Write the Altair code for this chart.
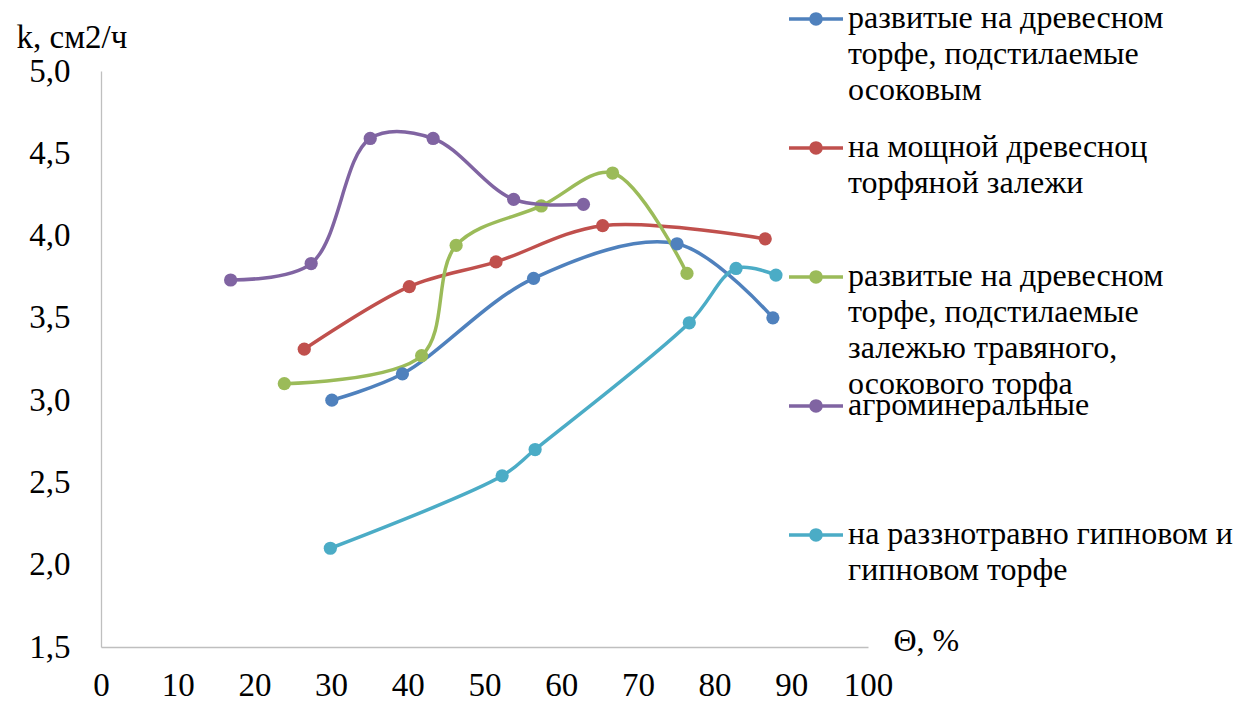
import json
import altair as alt
import pandas as pd

# ---- data ----
series_names = [
    "развитые на древесном торфе, подстилаемые осоковым",
    "на мощной древесноц торфяной залежи",
    "развитые на древесном торфе, подстилаемые залежью травяного, осокового торфа",
    "агроминеральные",
    "на раззнотравно гипновом и гипновом торфе",
]
legend_lines = [
    ["развитые на древесном", "торфе, подстилаемые", "осоковым"],
    ["на мощной древесноц", "торфяной залежи", ""],
    ["развитые на древесном", "торфе, подстилаемые", "залежью травяного,", "осокового торфа"],
    ["агроминеральные", "", ""],
    ["на раззнотравно гипновом и", "гипновом торфе", ""],
]
series_colors = ["#4F81BD", "#C0504D", "#9BBB59", "#8064A2", "#4BACC6"]

x_blue = [30.1, 39.3, 56.4, 75.1, 87.6]
y_blue = [3.00, 3.16, 3.74, 3.95, 3.50]
x_red = [26.5, 40.2, 51.5, 65.4, 86.6]
y_red = [3.31, 3.69, 3.84, 4.06, 3.98]
x_green = [23.9, 41.8, 46.3, 57.4, 66.7, 76.4]
y_green = [3.10, 3.27, 3.94, 4.18, 4.38, 3.77]
x_purple = [16.9, 27.4, 35.1, 43.3, 53.8, 62.9]
y_purple = [3.73, 3.83, 4.59, 4.59, 4.22, 4.19]
x_cyan = [29.9, 52.3, 56.6, 76.7, 82.8, 88.0]
y_cyan = [2.10, 2.54, 2.70, 3.47, 3.80, 3.76]

x_ticks = list(range(0, 101, 10))
y_ticks = [1.5, 2.0, 2.5, 3.0, 3.5, 4.0, 4.5, 5.0]

xs = [x_blue, x_red, x_green, x_purple, x_cyan]
ys = [y_blue, y_red, y_green, y_purple, y_cyan]
rows = []
for i, (name, xv, yv) in enumerate(zip(series_names, xs, ys)):
    for j, (a, b) in enumerate(zip(xv, yv)):
        rows.append({"series": name, "order": i, "idx": j, "x": a, "y": b})
df = pd.DataFrame(rows)

FONT = "Liberation Serif, Tinos, Times New Roman, DejaVu Serif, serif"
label_map = json.dumps(dict(zip(series_names, legend_lines)), ensure_ascii=False)

# legend symbol (unit = 3 px): a short line with a filled-looking dot, shifted to the first text line
sh = 5.3
cx = 8
def ring(r):
    return f"M{cx + r},{sh}A{r},{r},0,1,1,{cx - r},{sh}A{r},{r},0,1,1,{cx + r},{sh}"
legend_symbol = f"M-1,{sh}H17" + ring(1.67) + ring(1.17) + ring(0.5)


def make_legend(legend_y):
    return alt.Legend(
        orient="none",
        legendX=675,
        legendY=legend_y,
        labelFont=FONT,
        labelFontSize=32,
        labelColor="#000000",
        labelLimit=700,
        labelBaseline="top",
        labelOffset=40,
        labelExpr=f"({label_map})[datum.label]",
        symbolType=legend_symbol,
        symbolSize=36,
        symbolStrokeWidth=3.5,
        symbolOpacity=1,
        rowPadding=10,
        padding=0,
    )


x_enc = alt.X(
    "x:Q",
    scale=alt.Scale(domain=[0, 100], nice=False, zero=False),
    axis=alt.Axis(
        values=x_ticks,
        title="Θ, %",
        titleX=792,
        titleY=-7,
        titleAlign="left",
        titleBaseline="middle",
        titleFont=FONT,
        titleFontSize=32,
        labelFont=FONT,
        labelFontSize=33,
        labelPadding=22,
        labelFlush=False,
    ),
)
y_enc = alt.Y(
    "y:Q",
    scale=alt.Scale(domain=[1.5, 5.0], nice=False, zero=False),
    axis=alt.Axis(
        values=y_ticks,
        title="k, см2/ч",
        titleAngle=0,
        titleX=-85,
        titleY=-34,
        titleAlign="left",
        titleBaseline="middle",
        titleFont=FONT,
        titleFontSize=33,
        labelFont=FONT,
        labelFontSize=33,
        labelPadding=31,
        labelFlush=False,
        labelExpr="replace(format(datum.value, '.1f'), '.', ',')",
    ),
)


def group_layer(names, colors, legend_y):
    sub = df[df["series"].isin(names)]
    col = alt.Color(
        "series:N",
        sort=names,
        scale=alt.Scale(domain=names, range=colors),
        title=None,
        legend=make_legend(legend_y),
    )
    ln = alt.Chart(sub).mark_line(interpolate="catmull-rom", strokeWidth=3.5).encode(
        x=x_enc, y=y_enc, color=col, detail="series:N", order="idx:Q"
    )
    pt = alt.Chart(sub).mark_circle(size=175, opacity=1).encode(
        x="x:Q", y="y:Q", color=col
    )
    return alt.layer(ln, pt)


# two legend blocks, so entries keep the reference's even spacing
layer_a = group_layer(series_names[:3], series_colors[:3], -84)
layer_b = group_layer(series_names[3:], series_colors[3:], 303)

chart = (
    alt.layer(layer_a, layer_b)
    .resolve_scale(color="independent")
    .properties(
        width=767,
        height=576,
        autosize=alt.AutoSizeParams(type="none"),
        padding={"left": 93, "top": 63, "right": 384, "bottom": 58},
        background="#FFFFFF",
    )
    .configure(style={"guide-label": {"lineHeight": 36, "font": FONT}, "guide-title": {"font": FONT}})
    .configure_view(stroke=None)
    .configure_axis(
        grid=False,
        ticks=False,
        tickSize=0,
        domainColor="#BFBFBF",
        domainWidth=1.3,
        labelColor="#000000",
        titleFontWeight="normal",
        titleColor="#000000",
    )
)

chart.save("out.html", embed_options={"renderer": "svg", "actions": False})
